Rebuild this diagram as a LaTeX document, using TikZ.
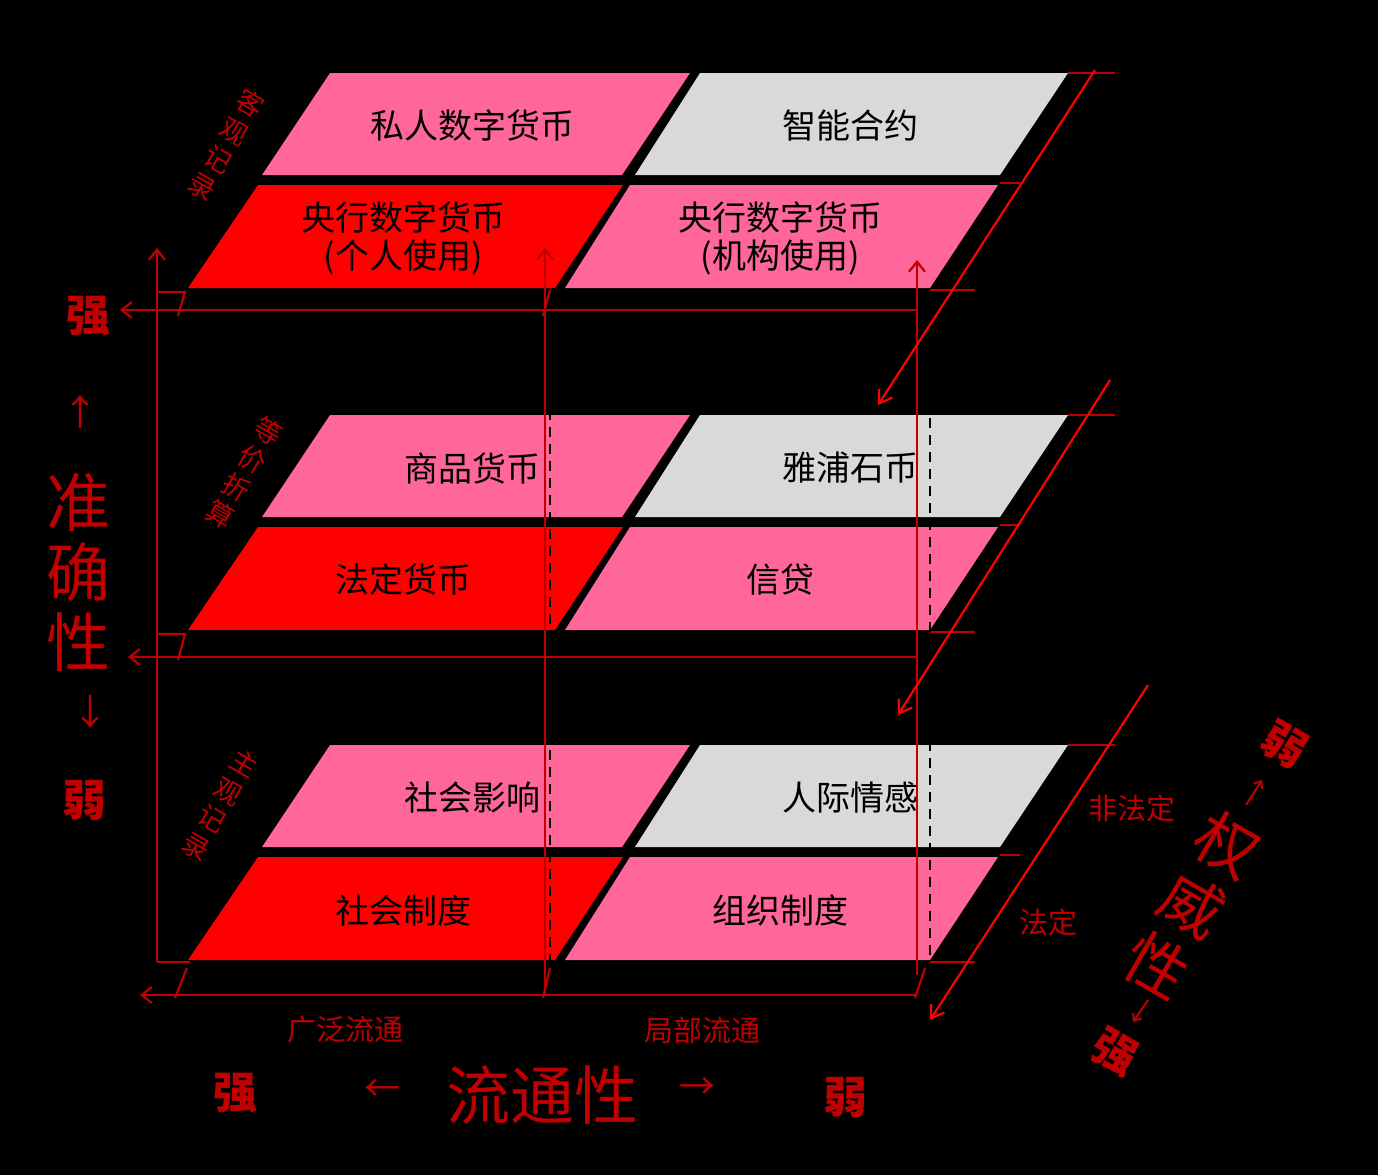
\documentclass[tikz,border=0pt]{standalone}
\usepackage{fontspec}
\setmainfont{Noto Sans CJK SC}
\usetikzlibrary{arrows.meta}
\definecolor{pinkc}{HTML}{FF6699}
\definecolor{grayc}{HTML}{D9D9D9}
\definecolor{dred}{HTML}{C00000}
\begin{document}
\begin{tikzpicture}[x=1pt,y=1pt,
  cell/.style={font=\fontsize{34}{38}\selectfont,align=center,text=black},
  ax/.style={draw=dred,line width=2.2pt},
  arr/.style={draw=red,line width=2.2pt,-{Straight Barb[length=12pt,width=16pt]}},
  axa/.style={ax,-{Straight Barb[length=10pt,width=16pt]}},
  lab/.style={text=dred,font=\fontsize{29}{31}\selectfont},
  sarr/.style={text=dred,font=\fontsize{36}{38}\selectfont},
  big/.style={text=dred,font=\fontsize{64}{66}\selectfont},
  strong/.style={text=dred,font=\fontsize{44}{46}\selectfont\bfseries}]
\fill[black] (0,0) rectangle (1378,-1175);
\useasboundingbox (0,0) rectangle (1378,-1175);
% layers
\foreach \o/\a/\b/\c/\d in {
  0/私人数字货币/智能合约/{央行数字货币\\(个人使用)}/{央行数字货币\\(机构使用)},
  342/商品货币/雅浦石币/法定货币/信贷,
  672/社会影响/人际情感/社会制度/组织制度}{
  \fill[pinkc] (330,-73-\o) -- (690,-73-\o) -- (622,-175-\o) -- (262,-175-\o) -- cycle;
  \fill[grayc] (700,-73-\o) -- (1068,-73-\o) -- (1000,-175-\o) -- (635,-175-\o) -- cycle;
  \fill[red] (258,-185-\o) -- (623,-185-\o) -- (555,-288-\o) -- (188,-288-\o) -- cycle;
  \fill[pinkc] (630,-185-\o) -- (998,-185-\o) -- (930,-288-\o) -- (565,-288-\o) -- cycle;
  \node[cell] at (472,-126-\o) {\a};
  \node[cell] at (850,-126-\o) {\b};
  \node[cell] at (403,-238-\o) {\c};
  \node[cell] at (780,-238-\o) {\d};
  \draw[ax] (1068,-73-\o) -- (1115,-73-\o);
  \draw[ax] (1000,-183-\o) -- (1020,-183-\o);
  \draw[ax] (930,-290-\o) -- (975,-290-\o);
}
% dashed
\draw[black,line width=2pt,dash pattern=on 10pt off 7pt] (550,-410) -- (550,-962);
\draw[black,line width=2pt,dash pattern=on 10pt off 7pt] (930,-418) -- (930,-962);
% verticals
\draw[axa] (157,-962) -- (157,-248);
\draw[axa] (545,-995) -- (545,-248);
\draw[axa] (917,-975) -- (917,-260);
\draw[ax] (157,-962) -- (190,-962);
% horizontals
\draw[axa] (917,-310) -- (120,-310);
\draw[ax] (157,-292) -- (185,-292) -- (178,-316);
\draw[ax] (550,-290) -- (543,-316);
\draw[axa] (917,-657) -- (128,-657);
\draw[ax] (157,-634) -- (185,-634) -- (178,-660);
\draw[axa] (917,-995) -- (140,-995);
\draw[ax] (187,-968) -- (175,-998);
\draw[ax] (550,-968) -- (543,-998);
\draw[ax] (925,-968) -- (915,-998);
% diagonals
\draw[arr] (1095,-70) -- (878,-405);
\draw[arr] (1110,-380) -- (898,-715);
\draw[arr] (1148,-685) -- (930,-1020);
% side labels
\tikzset{side/.style={text=dred,rotate=-30,align=center,font=\fontsize{27}{32}\selectfont}}
\node[side] at (226,-145) {客\\观\\记\\录};
\node[side] at (244,-473) {等\\价\\折\\算};
\node[side] at (220,-805) {主\\观\\记\\录};
% left axis
\node[strong] at (88,-316) {强};
\node[sarr] at (80,-412) {↑};
\node[big,align=center,font=\fontsize{64}{70}\selectfont] at (78,-572) {准\\确\\性};
\node[sarr] at (90,-712) {↓};
\node[strong] at (84,-800) {弱};
% bottom axis
\node[lab] at (345,-1030) {广泛流通};
\node[lab] at (702,-1030) {局部流通};
\node[strong] at (235,-1093) {强};
\node[sarr] at (382,-1090) {←};
\node[big] at (542,-1095) {流通性};
\node[sarr] at (697,-1088) {→};
\node[strong] at (845,-1097) {弱};
% right axis
\node[lab] at (1132,-808) {非法定};
\node[lab] at (1048,-922) {法定};
\node[big,rotate=-30,align=center,font=\fontsize{62}{70}\selectfont] at (1192,-905) {权\\威\\性};
\node[strong,rotate=-30] at (1285,-745) {弱};
\node[strong,rotate=-30] at (1115,-1052) {强};
\draw[draw=dred,line width=2pt,-{Straight Barb[length=6pt,width=10pt]}] (1246,-805) -- (1262,-780);
\draw[draw=dred,line width=2pt,-{Straight Barb[length=6pt,width=10pt]}] (1148,-1000) -- (1133,-1022);
\end{tikzpicture}
\end{document}
